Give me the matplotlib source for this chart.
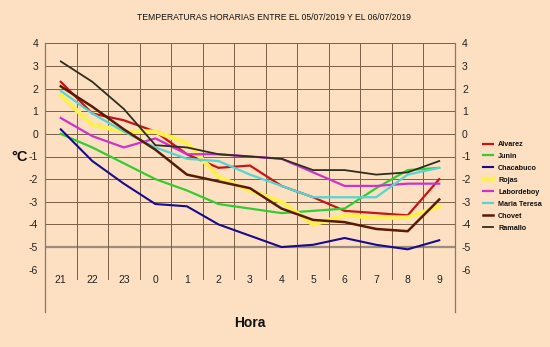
import numpy as np
import matplotlib
matplotlib.use("Agg")
import matplotlib.pyplot as plt

plt.rcParams["font.family"] = ["Liberation Sans", "DejaVu Sans"]
plt.rcParams["axes.unicode_minus"] = False

# hourly temperatures, 21h on 05/07 to 9h on 06/07
horas = ["21", "22", "23", "0", "1", "2", "3", "4", "5", "6", "7", "8", "9"]

alvarez = [2.3, 0.9, 0.6, 0.1, -0.9, -1.5, -1.4, -2.3, -2.8, -3.4, -3.5, -3.6, -2.0]
junin = [0.0, -0.6, -1.3, -2.0, -2.5, -3.1, -3.3, -3.5, -3.4, -3.3, -2.4, -1.6, -1.5]
chacabuco = [0.2, -1.2, -2.2, -3.1, -3.2, -4.0, -4.5, -5.0, -4.9, -4.6, -4.9, -5.1, -4.7]
rojas = [1.7, 0.4, 0.1, 0.1, -0.4, -1.9, -2.5, -3.0, -4.0, -3.6, -3.7, -3.7, -3.2]
labordeboy = [0.7, -0.1, -0.6, -0.2, -0.9, -0.9, -1.0, -1.1, -1.7, -2.3, -2.3, -2.2, -2.2]
maria_teresa = [1.9, 0.9, 0.1, -0.6, -1.1, -1.2, -1.8, -2.3, -2.8, -2.8, -2.8, -1.8, -1.5]
chovet = [2.1, 1.2, 0.2, -0.7, -1.8, -2.1, -2.4, -3.3, -3.8, -3.9, -4.2, -4.3, -2.9]
ramallo = [3.2, 2.3, 1.1, -0.5, -0.6, -0.9, -1.0, -1.1, -1.6, -1.6, -1.8, -1.7, -1.2]

series = [
    ("Alvarez", alvarez, "#C81414", 1.6),
    ("Junin", junin, "#33CC33", 1.6),
    ("Chacabuco", chacabuco, "#1A0A8C", 1.5),
    ("Rojas", rojas, "#FFEE55", 3.2),
    ("Labordeboy", labordeboy, "#CC33CC", 1.6),
    ("Maria Teresa", maria_teresa, "#55D5D0", 1.6),
    ("Chovet", chovet, "#5A1A05", 1.8),
    ("Ramallo", ramallo, "#2E2E1E", 1.3),
]

bg = "#FDE0C2"
gridc = "#7A6048"

fig = plt.figure(figsize=(5.5, 3.47), dpi=100, facecolor=bg)
ax = fig.add_axes([45 / 550, 1 - 269.7 / 347, 410 / 550, 226.4 / 347])
ax.set_facecolor(bg)

x = np.arange(len(horas))
ax.set_xlim(-0.5, len(horas) - 0.5)
ax.set_ylim(-6, 4)

# grid: horizontal lines at each degree, vertical between hours
for v in range(-6, 5):
    if v == -5:
        ax.axhline(v, color="#9C8C7C", lw=1.6, zorder=1)
    else:
        ax.axhline(v, color=gridc, lw=0.7, zorder=1)
for i in range(len(horas) - 1):
    ax.plot([i + 0.5, i + 0.5], [4, -6.42], color=gridc, lw=0.7, clip_on=False, zorder=1)

for s in ["top", "bottom", "left", "right"]:
    ax.spines[s].set_visible(False)
for xs in [-0.5, len(horas) - 0.5]:
    ax.plot([xs, xs], [4, -7.87], color="#8A7868", lw=0.9, clip_on=False, zorder=1)

for nombre, vals, col, lw in series:
    ax.plot(x, vals, color=col, lw=lw, label=nombre, zorder=3, solid_joinstyle="round")

ax.set_xticks([])
ax.set_yticks(range(-6, 5))
ax.tick_params(axis="y", length=0, labelsize=7.5, pad=5, labelright=True, labelcolor="#222222")

for i, h in enumerate(horas):
    ax.text(i, -6.45, h, ha="center", va="center", fontsize=7.5, color="#222222")

fig.text(274 / 550, 1 - 18 / 347, "TEMPERATURAS HORARIAS ENTRE EL 05/07/2019 Y EL 06/07/2019",
         ha="center", va="center", fontsize=6.2, color="#111111")
fig.text(20 / 550, 1 - 157 / 347, "°C", ha="center", va="center", fontsize=10.5,
         fontweight="bold", color="#111111")
fig.text(250 / 550, 1 - 323 / 347, "Hora", ha="center", va="center", fontsize=10,
         fontweight="bold", color="#111111")

leg = fig.legend(loc="upper left", bbox_to_anchor=(483 / 550, 1 - 141 / 347), frameon=False,
                 fontsize=5.2, handlelength=1.4, handletextpad=0.7, labelspacing=0.68,
                 borderaxespad=0, borderpad=0)
for t in leg.get_texts():
    t.set_fontweight("bold")
    t.set_color("#111111")

fig.savefig("out.png", dpi=100, facecolor=bg)
